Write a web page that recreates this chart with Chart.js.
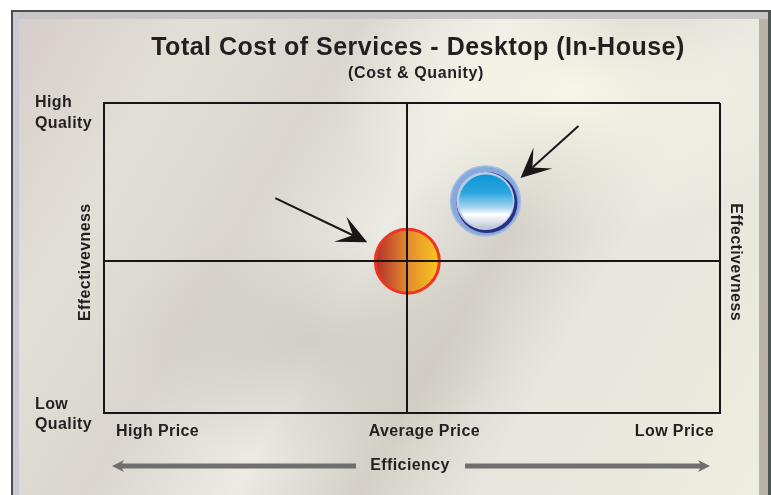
<!DOCTYPE html>
<html>
<head>
<meta charset="utf-8">
<script src="https://cdn.jsdelivr.net/npm/chart.js@4.4.1/dist/chart.umd.min.js"></script>
<style>
  html, body { margin:0; padding:0; background:#ffffff; }
  #wrap { position:relative; width:771px; height:495px; overflow:hidden; }
  #frame {
    position:absolute; left:11px; top:10px; width:760px; height:490px;
    box-sizing:border-box; border:2px solid #4a5050; border-bottom:none; border-right:3px solid #4e5452;
    background:
      radial-gradient(ellipse 320px 190px at 560px 80px, rgba(248,248,234,0.95), rgba(248,248,234,0) 75%),
      radial-gradient(ellipse 260px 160px at 300px 330px, rgba(196,192,184,0.65), rgba(196,192,184,0) 75%),
      linear-gradient(120deg, #d5ccc9 0%, #e2dfd7 18%, #dad6cf 34%, #ebeae3 48%, #d4d0c8 60%, #e8e7df 72%, #e9e8dc 86%, #efefe0 100%);
    box-shadow: inset 6px 0 0 #cbc8d3, inset 0 7px 0 #cac6c8, inset -9px 0 0 #b9b3a3;
  }
  canvas { position:absolute; left:0; top:0; }
</style>
</head>
<body>
<div id="wrap">
  <div id="frame"></div>
  <canvas id="c" width="771" height="495"></canvas>
</div>
<script>
// ---- data ----
const seriesNames = ['Desktop (In-House)', 'Benchmark'];
const xValues = [0, 0.25];      // efficiency: -1 high price .. 1 low price
const yValues = [0, 0.38];      // effectiveness: -1 low quality .. 1 high quality
const radii = [32, 35];
const xTickLabels = ['High Price', 'Average Price', 'Low Price'];
const yTickLabels = [['High', 'Quality'], ['Low', 'Quality']];
const titleText = 'Total Cost of Services - Desktop (In-House)';
const subtitleText = '(Cost & Quanity)';
const xAxisTitle = 'Efficiency';
const yAxisTitle = 'Effectivevness';

const X_MIN = -0.97, X_MAX = 1, Y_MIN = -0.96, Y_MAX = 1;
const INK = '#231f20';
const LINE = '#161616';

function orangeFill(ctx) {
  const chart = ctx.chart;
  if (!chart.chartArea || ctx.raw == null) return '#e08a30';
  const cx = chart.scales.x.getPixelForValue(ctx.raw.x);
  const r = ctx.raw.r;
  const g = chart.ctx.createLinearGradient(cx - r, 0, cx + r, 0);
  g.addColorStop(0, '#b32e2a');
  g.addColorStop(0.5, '#e38a30');
  g.addColorStop(1, '#f8c91d');
  return g;
}

const decor = {
  id: 'decor',
  afterDatasetsDraw(chart) {
    const ctx = chart.ctx;
    // blue bubble inner details
    const bm = chart.getDatasetMeta(1);
    bm.data.forEach(el => {
      const x = el.x, y = el.y;
      ctx.save();
      ctx.beginPath(); ctx.arc(x + 1.5, y + 1.5, 30.5, 0, Math.PI * 2);
      ctx.fillStyle = '#2a2f86'; ctx.fill();
      ctx.beginPath(); ctx.arc(x, y, 29, 0, Math.PI * 2);
      ctx.fillStyle = '#b9cdea'; ctx.fill();
      const g = ctx.createLinearGradient(0, y - 28, 0, y + 28);
      g.addColorStop(0, '#0a94d6');
      g.addColorStop(0.35, '#2aa6dd');
      g.addColorStop(0.62, '#a8d6ef');
      g.addColorStop(0.74, '#ffffff');
      g.addColorStop(0.86, '#dfe3ea');
      g.addColorStop(1, '#b6c0d4');
      ctx.beginPath(); ctx.arc(x + 0.5, y + 0.5, 27, 0, Math.PI * 2);
      ctx.fillStyle = g; ctx.fill();
      ctx.restore();
    });

    // black pointer arrows aimed at the bubbles
    const om = chart.getDatasetMeta(0).data[0];
    const be = bm.data[0];
    drawPointer(ctx, om.x - 132, om.y - 63, om.x - 40, om.y - 19);
    drawPointer(ctx, be.x + 93, be.y - 75, be.x + 35, be.y - 23);
  },
  afterDraw(chart) {
    const ctx = chart.ctx;
    const xs = chart.scales.x, ys = chart.scales.y;
    const left = xs.getPixelForValue(X_MIN), right = xs.getPixelForValue(X_MAX);
    const mid = xs.getPixelForValue(0);
    const top = ys.getPixelForValue(Y_MAX), bottom = ys.getPixelForValue(Y_MIN);
    ctx.save();
    ctx.fillStyle = INK;
    ctx.textBaseline = 'middle';
    // title
    ctx.textAlign = 'center';
    ctx.letterSpacing = '0.5px';
    ctx.font = 'bold 25px "Liberation Sans", Arial, sans-serif';
    ctx.fillText(titleText, 418, 48);
    ctx.font = 'bold 16px "Liberation Sans", Arial, sans-serif';
    ctx.letterSpacing = '0.6px';
    ctx.fillText(subtitleText, 416, 74);

    ctx.letterSpacing = '0.4px';
    ctx.font = 'bold 16px "Liberation Sans", Arial, sans-serif';
    // x tick labels
    const ty = bottom + 19;
    ctx.textAlign = 'left';  ctx.fillText(xTickLabels[0], left + 12, ty);
    ctx.textAlign = 'center'; ctx.fillText(xTickLabels[1], mid + 17, ty);
    ctx.textAlign = 'right'; ctx.fillText(xTickLabels[2], right - 6, ty);
    // y tick labels
    ctx.textAlign = 'left';
    ctx.fillText(yTickLabels[0][0], 35, top);
    ctx.fillText(yTickLabels[0][1], 35, top + 21);
    ctx.fillText(yTickLabels[1][0], 35, bottom - 8);
    ctx.fillText(yTickLabels[1][1], 35, bottom + 12);

    // x axis title with arrows
    ctx.textAlign = 'center';
    ctx.fillText(xAxisTitle, 410, 466);
    ctx.fillStyle = '#6f6f6f';
    drawBlockArrow(ctx, 356, 112, 466);
    drawBlockArrow(ctx, 465, 710, 466);

    // y axis titles (both sides)
    ctx.fillStyle = INK;
    const cy = (ys.getPixelForValue(0) + 1);
    ctx.save(); ctx.translate(86, cy); ctx.rotate(-Math.PI / 2);
    ctx.textAlign = 'center'; ctx.fillText(yAxisTitle, 0, 0); ctx.restore();
    ctx.save(); ctx.translate(735, cy); ctx.rotate(Math.PI / 2);
    ctx.textAlign = 'center'; ctx.fillText(yAxisTitle, 0, 0); ctx.restore();
    ctx.restore();
  }
};

function drawBlockArrow(ctx, x0, x1, y) {
  const dir = Math.sign(x1 - x0);
  const headLen = 10, half = 6, shaft = 2.5;
  const hb = x1 - dir * headLen;
  ctx.beginPath();
  ctx.moveTo(x0, y - shaft);
  ctx.lineTo(hb, y - shaft);
  ctx.lineTo(hb - dir * 2, y - half);
  ctx.lineTo(x1, y);
  ctx.lineTo(hb - dir * 2, y + half);
  ctx.lineTo(hb, y + shaft);
  ctx.lineTo(x0, y + shaft);
  ctx.closePath();
  ctx.fill();
}

function drawPointer(ctx, x0, y0, x1, y1) {
  const dx = x1 - x0, dy = y1 - y0, L = Math.hypot(dx, dy);
  const ux = dx / L, uy = dy / L, px = -uy, py = ux;
  const back = 30, half = 14, notch = 16;
  ctx.save();
  ctx.strokeStyle = '#1a1718'; ctx.fillStyle = '#1a1718';
  ctx.lineWidth = 2;
  ctx.beginPath();
  ctx.moveTo(x0, y0);
  ctx.lineTo(x1 - ux * notch, y1 - uy * notch);
  ctx.stroke();
  ctx.beginPath();
  ctx.moveTo(x1, y1);
  ctx.lineTo(x1 - ux * back + px * half, y1 - uy * back + py * half);
  ctx.lineTo(x1 - ux * notch, y1 - uy * notch);
  ctx.lineTo(x1 - ux * back - px * half, y1 - uy * back - py * half);
  ctx.closePath();
  ctx.fill();
  ctx.restore();
}

function threeTicks(scale) {
  scale.ticks = [{ value: scale.min }, { value: 0 }, { value: scale.max }];
}

new Chart(document.getElementById('c'), {
  type: 'bubble',
  data: {
    datasets: [
      {
        label: seriesNames[0],
        data: [{ x: xValues[0], y: yValues[0], r: radii[0] }],
        backgroundColor: orangeFill,
        borderColor: '#ee3524',
        borderWidth: 3
      },
      {
        label: seriesNames[1],
        data: [{ x: xValues[1], y: yValues[1], r: radii[1] }],
        backgroundColor: '#88a9d9',
        borderColor: '#a3bde3',
        borderWidth: 1.5
      }
    ]
  },
  options: {
    responsive: false,
    devicePixelRatio: 1,
    animation: false,
    layout: { padding: { left: 104, right: 51, top: 103, bottom: 82 } },
    plugins: { legend: { display: false }, tooltip: { enabled: false }, title: { display: false } },
    elements: { point: { hoverRadius: 0 } },
    scales: {
      x: {
        type: 'linear', min: X_MIN, max: X_MAX,
        afterBuildTicks: threeTicks,
        ticks: { display: false },
        grid: { color: LINE, lineWidth: 2, drawTicks: false, z: 1 },
        border: { display: true, color: LINE, width: 2, z: 1 }
      },
      y: {
        type: 'linear', min: Y_MIN, max: Y_MAX,
        afterBuildTicks: threeTicks,
        ticks: { display: false },
        grid: { color: LINE, lineWidth: 2, drawTicks: false, z: 1 },
        border: { display: true, color: LINE, width: 2, z: 1 }
      }
    }
  },
  plugins: [decor]
});
</script>
</body>
</html>
